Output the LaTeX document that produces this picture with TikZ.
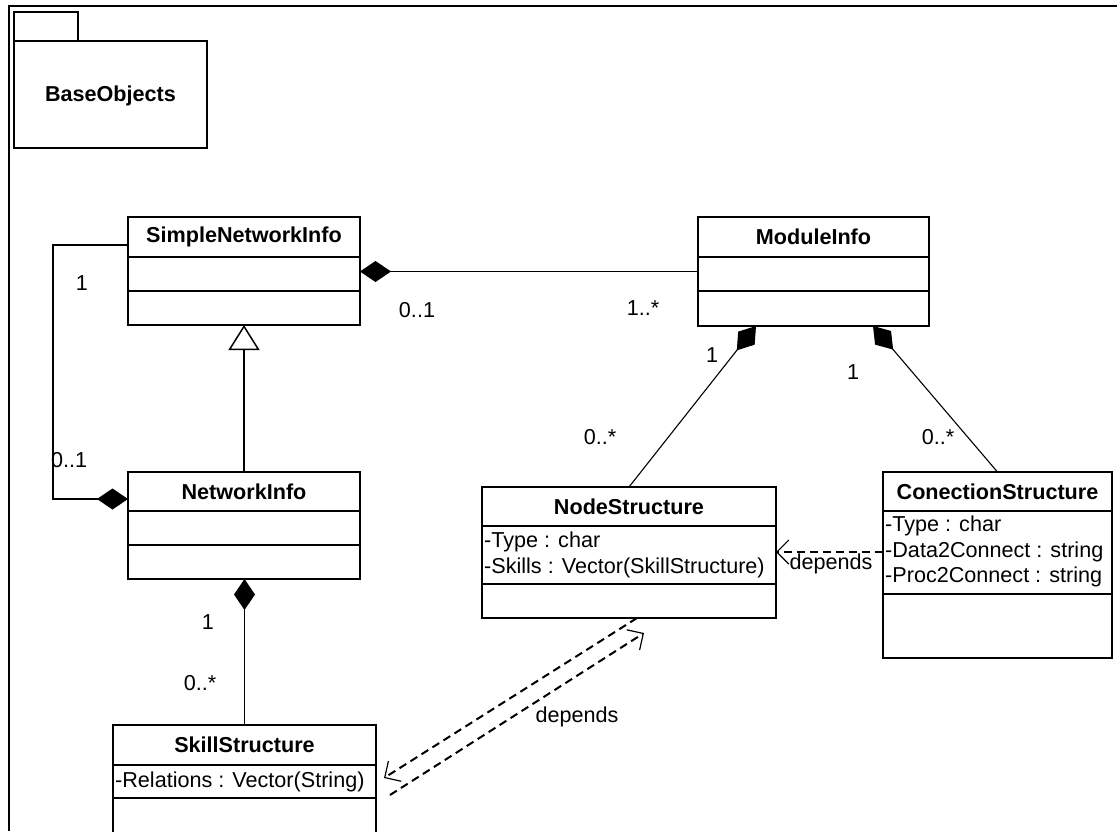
\documentclass[tikz,border=0pt]{standalone}
\usepackage{fontspec}
\setmainfont{Liberation Sans}
\usetikzlibrary{arrows.meta}
\begin{document}
\begin{tikzpicture}[x=1pt,y=-1pt,
  every node/.style={font=\fontsize{21.6}{26}\selectfont},
  frame/.style={line width=2.6pt},
  classbox/.style={draw, line width=2.2pt, inner sep=0pt, outer sep=0pt, anchor=north west},
  title/.style={font=\bfseries\fontsize{21.6}{26}\selectfont, inner sep=0pt},
  attr/.style={anchor=west, inner sep=0pt},
  divider/.style={line width=2.2pt},
  link/.style={line width=1.1pt},
  comp/.style={link, -{Diamond[length=31pt, width=21pt]}},
  gen/.style={link, -{Triangle[open, length=25pt, width=31pt, line width=1.5pt]}},
  dep/.style={line width=2pt, dash pattern=on 8pt off 5pt,
              -{Straight Barb[length=12pt, width=24pt, line width=1.2pt]}},
  mult/.style={inner sep=0pt}]
\useasboundingbox (0,0) rectangle (1117,831);

% enclosing package frame
\draw[frame] (9,831) -- (9,6) -- (1117,6);

% package BaseObjects
\node[classbox, minimum width=64pt, minimum height=29pt] (pkgTab) at (14,12) {};
\node[classbox, minimum width=193pt, minimum height=107pt] (pkg) at (14,41) {};
\node[title] (pkgName) at ([yshift=-1pt]pkg.center) {BaseObjects};

% SimpleNetworkInfo
\node[classbox, minimum width=232pt, minimum height=108pt] (sni) at (128,217) {};
\draw[divider] ([yshift=-40pt]sni.north west) -- ([yshift=-40pt]sni.north east);
\draw[divider] ([yshift=-74pt]sni.north west) -- ([yshift=-74pt]sni.north east);
\node[title] (sniName) at ([yshift=-20pt]sni.north) {SimpleNetworkInfo};

% ModuleInfo
\node[classbox, minimum width=231pt, minimum height=109pt] (mi) at (698,217) {};
\draw[divider] ([yshift=-40pt]mi.north west) -- ([yshift=-40pt]mi.north east);
\draw[divider] ([yshift=-74pt]mi.north west) -- ([yshift=-74pt]mi.north east);
\node[title] (miName) at ([yshift=-20pt]mi.north) {ModuleInfo};

% NetworkInfo
\node[classbox, minimum width=232pt, minimum height=107pt] (ni) at (128,472) {};
\draw[divider] ([yshift=-39pt]ni.north west) -- ([yshift=-39pt]ni.north east);
\draw[divider] ([yshift=-73pt]ni.north west) -- ([yshift=-73pt]ni.north east);
\node[title] (niName) at ([yshift=-19.5pt]ni.north) {NetworkInfo};

% NodeStructure
\node[classbox, minimum width=294pt, minimum height=131pt] (ns) at (482,487) {};
\draw[divider] ([yshift=-39pt]ns.north west) -- ([yshift=-39pt]ns.north east);
\draw[divider] ([yshift=-97pt]ns.north west) -- ([yshift=-97pt]ns.north east);
\node[title] (nsName) at ([yshift=-19.5pt]ns.north) {NodeStructure};
\node[attr] (nsA1) at ([shift={(2pt,-55pt)}]ns.north west) {-Type : char};
\node[attr] (nsA2) at ([shift={(2pt,-81pt)}]ns.north west) {-Skills : Vector(SkillStructure)};

% ConectionStructure
\node[classbox, minimum width=229pt, minimum height=186pt] (cs) at (883,472) {};
\draw[divider] ([yshift=-39pt]cs.north west) -- ([yshift=-39pt]cs.north east);
\draw[divider] ([yshift=-122pt]cs.north west) -- ([yshift=-122pt]cs.north east);
\node[title] (csName) at ([yshift=-19.5pt]cs.north) {ConectionStructure};
\node[attr] (csA1) at ([shift={(2pt,-54pt)}]cs.north west) {-Type : char};
\node[attr] (csA2) at ([shift={(2pt,-80pt)}]cs.north west) {-Data2Connect : string};
\node[attr] (csA3) at ([shift={(2pt,-105pt)}]cs.north west) {-Proc2Connect : string};

% SkillStructure
\node[classbox, minimum width=263pt, minimum height=140pt] (ss) at (113,725) {};
\draw[divider] ([yshift=-40pt]ss.north west) -- ([yshift=-40pt]ss.north east);
\draw[divider] ([yshift=-73pt]ss.north west) -- ([yshift=-73pt]ss.north east);
\node[title] (ssName) at ([yshift=-20pt]ss.north) {SkillStructure};
\node[attr] (ssA1) at ([shift={(2pt,-57pt)}]ss.north west) {-Relations : Vector(String)};

% associations and compositions
\draw[comp] ([yshift=-28pt]sni.north west) -- ++(-75,0) |- ([yshift=-27pt]ni.north west);
\draw[comp] (mi.west) -- (mi.west -| sni.east);
\draw[gen] (ni.north) -- (sni.south);
\draw[comp] (ss.north) -- (ss.north |- ni.south);
\draw[comp] (ns.north) -- ([xshift=58pt]mi.south west);
\draw[comp] (cs.north) -- ([xshift=175pt]mi.south west);

% dependencies
\coordinate (csDep) at ([yshift=-80pt]cs.north west);
\draw[dep] (csDep) -- (csDep -| ns.east);
\node (depA) at (831,564) {depends};
\draw[dep] ([xshift=155pt]ns.south west) -- ([shift={(8pt,-53pt)}]ss.north east);
\draw[dep] ([shift={(14pt,-70pt)}]ss.north east) -- ([shift={(162pt,-15pt)}]ns.south west);
\node (depB) at (577,717) {depends};

% multiplicities
\node[mult] (m1) at (82,283) {1};
\node[mult, anchor=west] (m2) at (51,460) {0..1};
\node[mult] (m3) at (417,310) {0..1};
\node[mult] (m4) at (643,308) {1..*};
\node[mult] (m5) at (712,355) {1};
\node[mult] (m6) at (853,372) {1};
\node[mult] (m7) at (600,437) {0..*};
\node[mult] (m8) at (938,437) {0..*};
\node[mult] (m9) at (208,622) {1};
\node[mult] (m10) at (200,683) {0..*};
\end{tikzpicture}
\end{document}
